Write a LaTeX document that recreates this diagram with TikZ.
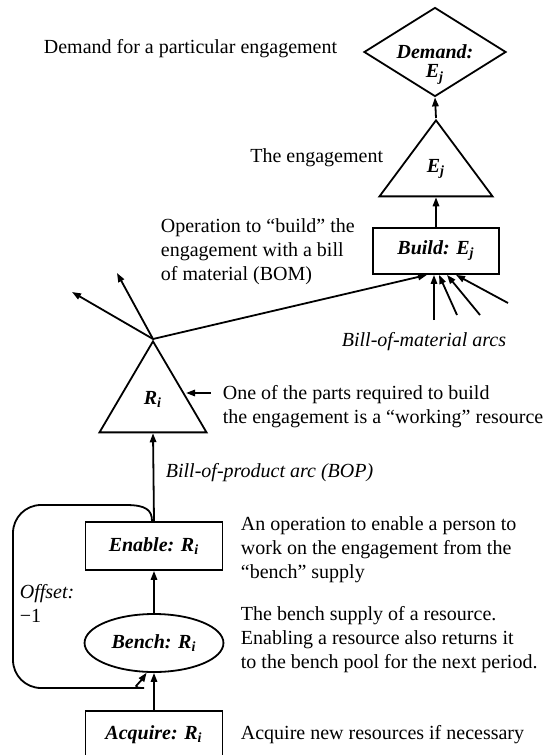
\documentclass[tikz,border=0pt]{standalone}
\usepackage{fontspec}
\setmainfont{Liberation Serif}
\usetikzlibrary{shapes.geometric,arrows.meta}

\begin{document}
\begin{tikzpicture}[x=0.5pt,y=-0.5pt,line width=0.9pt,>={Triangle[length=4.5pt,width=3.2pt]},
  box/.style={draw, rectangle, minimum width=68.5pt, minimum height=24pt, font=\bfseries\itshape},
  tri/.style={draw, isosceles triangle, isosceles triangle stretches, shape border rotate=90, inner sep=0pt, font=\bfseries\itshape},
  txt/.style={align=left, inner sep=0pt}]
  \path[use as bounding box, clip] (0,0) rectangle (542,755);

  % the chain of nodes
  \node[draw, diamond, minimum width=71pt, minimum height=44.5pt, inner sep=0pt, font=\bfseries\itshape] (demand) at (435,52)
    {\raisebox{-13pt}[0pt][0pt]{\shortstack{Demand:\\E\textsubscript{j}}}};
  \node[tri, minimum width=56.5pt, minimum height=38pt, anchor=apex] (ej) at (436,118) {\raisebox{4pt}{E\textsubscript{j}}};
  \node[box, minimum width=63pt, minimum height=23pt] (build) at (436,251) {Build: E\textsubscript{j}};
  \node[tri, minimum width=53.5pt, minimum height=45.5pt, anchor=apex] (ri) at (153,339) {\raisebox{5pt}{R\textsubscript{i}}};
  \node[box] (enable) at (154,546) {Enable: R\textsubscript{i}};
  \node[draw, ellipse, minimum width=62pt, minimum height=29pt, font=\bfseries\itshape] (bench) at (154,643) {Bench: R\textsubscript{i}};
  \node[box] (acquire) at (154,735) {Acquire: R\textsubscript{i}};

  % the notes
  \node[txt, anchor=east] (demtxt) at (338,49) {Demand for a particular engagement};
  \node[txt, anchor=east] (engtxt) at (384,158) {The engagement};
  \node[txt, anchor=west] (optxt) at (160,252) {Operation to ``build'' the\\engagement with a bill\\of material (BOM)};
  \node[txt, font=\itshape] (bomtxt) at (424,342) {Bill-of-material arcs};
  \node[txt, anchor=west] (parttxt) at (222,407) {One of the parts required to build\\the engagement is a ``working'' resource};
  \node[txt, anchor=west, font=\itshape] (boptxt) at (165,473) {Bill-of-product arc (BOP)};
  \node[txt, anchor=west] (enabtxt) at (240,550) {An operation to enable a person to\\work on the engagement from the\\``bench'' supply};
  \node[txt, anchor=west] (benchtxt) at (240,640) {The bench supply of a resource.\\Enabling a resource also returns it\\to the bench pool for the next period.};
  \node[txt, anchor=west] (acqtxt) at (240,735) {Acquire new resources if necessary};
  \node[txt, anchor=west] (offtxt) at (19,603) {\textit{Offset:}\\−1};

  \coordinate (outa) at (72,292);
  \coordinate (outb) at (117,273);
  \coordinate (bma) at (434,320);
  \coordinate (bmb) at (457,315);
  \coordinate (bmc) at (480,315);
  \coordinate (bmd) at (508,303);
  \coordinate (ritip) at (186,393);

  \draw[->] (ej.apex) -- (demand.south);
  \draw[->] (build.north) -- (ej.lower side);
  \draw[->] (ri.apex) -- (outa);
  \draw[->] (ri.apex) -- (outb);
  \draw[->] (ri.apex) -- ([xshift=-4.5pt]build.south);
  \draw[->] (bma) -- ([xshift=-1pt]build.south);
  \draw[->] (bmb) -- ([xshift=1.5pt]build.south);
  \draw[->] (bmc) -- ([xshift=5.5pt]build.south);
  \draw[->] (bmd) -- ([xshift=10pt]build.south);
  \draw[<-] (ritip) -- ++(25,0);
  \draw[->] (enable.north) -- (ri.lower side);
  \draw[->] (bench.north) -- (enable.south);
  \draw[->] (acquire.north) -- (bench.south);

  % offset loop
  \draw[->] ([xshift=-1pt]enable.north) .. controls (152,510) and (146,505) .. (126,505)
    [rounded corners=14pt] -- (13,505) -- (13,688) -- (116,688) [sharp corners]
    .. controls (130,688) and (138,685) .. (bench.256);
\end{tikzpicture}
\end{document}
